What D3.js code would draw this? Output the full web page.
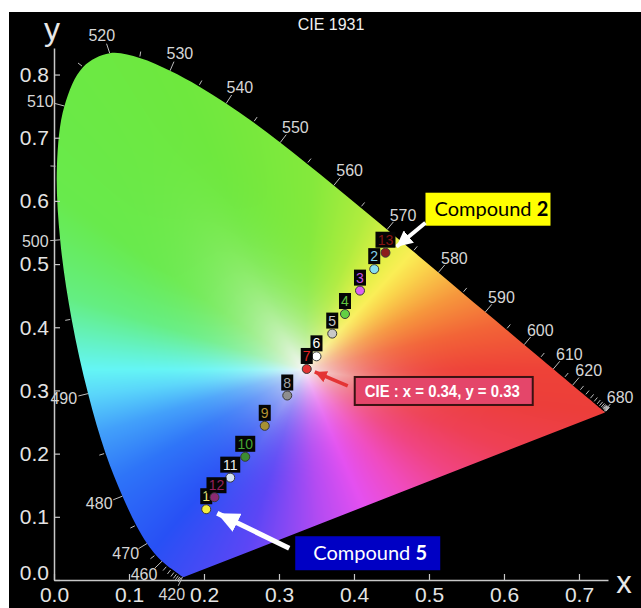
<!DOCTYPE html>
<html>
<head>
<meta charset="utf-8">
<script src="https://cdnjs.cloudflare.com/ajax/libs/d3/7.8.5/d3.min.js"></script>
<style>
  body { margin: 0; background: #fff; }
  svg { display: block; }
</style>
</head>
<body>
<div id="chart"></div>
<script>
// CIE 1931 2-degree spectral locus, 5 nm steps
const wavelengths = d3.range(380, 701, 5)
const locusX = [0.1741,0.1740,0.1738,0.1736,0.1733,0.1730,0.1726,0.1721,0.1714,0.1703,0.1689,0.1669,0.1644,0.1611,0.1566,0.1510,0.1440,0.1355,0.1241,0.1096,0.0913,0.0687,0.0454,0.0235,0.0082,0.0039,0.0139,0.0389,0.0743,0.1142,0.1547,0.1929,0.2296,0.2658,0.3016,0.3373,0.3731,0.4087,0.4441,0.4788,0.5125,0.5448,0.5752,0.6029,0.6270,0.6482,0.6658,0.6801,0.6915,0.7006,0.7079,0.7140,0.7190,0.7230,0.7260,0.7283,0.7300,0.7311,0.7320,0.7327,0.7334,0.7340,0.7344,0.7346,0.7347]
const locusY = [0.0050,0.0050,0.0049,0.0049,0.0048,0.0048,0.0048,0.0048,0.0051,0.0058,0.0069,0.0086,0.0109,0.0138,0.0177,0.0227,0.0297,0.0399,0.0578,0.0868,0.1327,0.2007,0.2950,0.4127,0.5384,0.6548,0.7502,0.8120,0.8338,0.8262,0.8059,0.7816,0.7543,0.7243,0.6923,0.6589,0.6245,0.5896,0.5547,0.5202,0.4866,0.4544,0.4242,0.3965,0.3725,0.3514,0.3340,0.3197,0.3083,0.2993,0.2920,0.2859,0.2809,0.2770,0.2740,0.2717,0.2700,0.2689,0.2680,0.2673,0.2666,0.2660,0.2656,0.2654,0.2653]
const labelledWl = [420,460,470,480,490,500,510,520,530,540,550,560,570,580,590,600,610,620,680]

// measured samples
const sampleIds = ["1","2","3","4","5","6","7","8","9","10","11","12","13"]
const sampleX = [0.203,0.427,0.408,0.388,0.371,0.350,0.337,0.311,0.281,0.255,0.235,0.214,0.442]
const sampleY = [0.112,0.492,0.458,0.421,0.390,0.354,0.334,0.292,0.244,0.195,0.162,0.131,0.518]
const sampleFill = ["#f4ee3c","#86def0","#dc62f0","#62d044","#c8c8c8","#ffffff","#e23232","#8e8e8e","#a89232","#3c8c30","#d4e2f2","#8a2a72","#8c1c1c"]
const sampleText = ["#ece070","#86d2ea","#c452e2","#62c440","#c4c4c4","#ffffff","#e42222","#a4a4a4","#b49232","#44a432","#eeeeee","#94205a","#861414"]

const xTicks = [0,0.1,0.2,0.3,0.4,0.5,0.6,0.7]
const yTicks = [0,0.1,0.2,0.3,0.4,0.5,0.6,0.7,0.8]

// colour wheel around the white point (angle in degrees -> rgb)
const hueAngles = [-10,0,15,30,45,52,60,72,88,110,140,160,172,180,188,200,215,235,255,275,290,305,320,335,350]
const hueColors = [[236,62,58],[238,66,56],[242,100,55],[246,150,60],[250,212,75],[250,238,85],[226,240,70],[176,236,62],[132,233,60],[110,232,62],[104,234,76],[100,238,130],[100,242,200],[100,245,245],[90,214,250],[66,160,250],[46,116,248],[40,80,245],[92,70,245],[180,75,242],[228,80,240],[240,75,190],[240,68,130],[238,64,85],[236,62,58]]
const whitePt = [0.3333, 0.3333]

const width = 641, height = 608

const svg = d3.select("#chart").append("svg")
    .attr("width", width)
    .attr("height", height)

svg.append("rect")
    .attr("x", 9).attr("y", 12)
    .attr("width", width - 9).attr("height", height - 12)
    .attr("fill", "#000")

const x = d3.scaleLinear().domain([0, 0.7387]).range([54, 608])
const y = d3.scaleLinear().domain([0, 0.842]).range([580, 48])

const locus = wavelengths.map((w, i) => ({ w: w, x: locusX[i], y: locusY[i] }))

// distance from white point to the locus edge, per half degree
const rEdge = []
for (let b = 0; b < 720; b++) {
    let a = b / 2 * Math.PI / 180, dx = Math.cos(a), dy = Math.sin(a)
    let best = Infinity
    for (let i = 0; i < locus.length; i++) {
        let A = locus[i], B = locus[(i + 1) % locus.length]
        let ex = B.x - A.x, ey = B.y - A.y
        let den = dx * ey - dy * ex
        if (Math.abs(den) < 1e-12) continue
        let ax = A.x - whitePt[0], ay = A.y - whitePt[1]
        let t = (ax * ey - ay * ex) / den
        let u = (ax * dy - ay * dx) / den
        if (t > 0 && u >= -1e-9 && u <= 1 + 1e-9 && t < best) best = t
    }
    rEdge.push(best)
}

function hueAt(deg) {
    if (deg >= 350) deg -= 360
    let i = 0
    while (i < hueAngles.length - 2 && deg > hueAngles[i + 1]) i++
    let t = (deg - hueAngles[i]) / (hueAngles[i + 1] - hueAngles[i])
    let c0 = hueColors[i], c1 = hueColors[i + 1]
    return [0, 1, 2].map(k => c0[k] + (c1[k] - c0[k]) * t)
}

// raster fill of the horseshoe
const canvas = document.createElement("canvas")
canvas.width = width
canvas.height = height
const ctx = canvas.getContext("2d")
const img = ctx.createImageData(width, height)
for (let py = 40; py < 590; py++) {
    for (let px = 45; px < 615; px++) {
        let dx = x.invert(px + 0.5) - whitePt[0]
        let dy = y.invert(py + 0.5) - whitePt[1]
        let deg = Math.atan2(dy, dx) * 180 / Math.PI
        if (deg < 0) deg += 360
        let s = Math.sqrt(dx * dx + dy * dy) / rEdge[Math.round(deg * 2) % 720]
        if (s > 1.2) continue
        let f = 1 - Math.pow(1 - Math.min(s / 0.9, 1), 3.6)
        let c = hueAt(deg)
        let o = (py * width + px) * 4
        img.data[o] = 246 * (1 - f) + c[0] * f
        img.data[o + 1] = 246 * (1 - f) + c[1] * f
        img.data[o + 2] = 246 * (1 - f) + c[2] * f
        img.data[o + 3] = 255
    }
}
ctx.putImageData(img, 0, 0)

const locusLine = d3.line().x(d => x(d.x)).y(d => y(d.y)).curve(d3.curveCatmullRom.alpha(0.5))

svg.append("clipPath").attr("id", "horseshoe")
    .append("path")
    .attr("d", locusLine(locus) + "Z")

svg.append("image")
    .attr("x", 0).attr("y", 0)
    .attr("width", width).attr("height", height)
    .attr("href", canvas.toDataURL())
    .attr("clip-path", "url(#horseshoe)")

// axes
const xAxis = svg.append("g")
    .attr("transform", "translate(0,580)")
    .call(d3.axisBottom(x).tickValues(xTicks).tickFormat(d3.format(".1f"))
        .tickSizeInner(-6).tickSizeOuter(0).tickPadding(7))
const yAxis = svg.append("g")
    .attr("transform", "translate(54,0)")
    .call(d3.axisLeft(y).tickValues(yTicks).tickFormat(d3.format(".1f"))
        .tickSizeInner(-6).tickSizeOuter(0).tickPadding(5))

for (const g of [xAxis, yAxis]) {
    g.select(".domain").attr("stroke", "#c8c8c8").attr("stroke-width", 1.5)
    g.selectAll(".tick line").attr("stroke", "#c8c8c8").attr("stroke-width", 1.2)
    g.selectAll(".tick text")
        .attr("fill", "#e4e4e4")
        .attr("font-family", "Liberation Sans, Arial, sans-serif")
        .attr("font-size", 21)
}
// lift the y "0.0" clear of the x labels
yAxis.selectAll(".tick text").filter(d => d === 0).attr("y", -7)

svg.append("text").text("x")
    .attr("x", 624).attr("y", 593)
    .attr("text-anchor", "middle")
    .attr("fill", "#e8e8e8")
    .attr("font-family", "Liberation Sans, Arial, sans-serif")
    .attr("font-size", 31)
svg.append("text").text("y")
    .attr("x", 52).attr("y", 40)
    .attr("text-anchor", "middle")
    .attr("fill", "#e8e8e8")
    .attr("font-family", "Liberation Sans, Arial, sans-serif")
    .attr("font-size", 32)

svg.append("text").text("CIE 1931")
    .attr("x", 331).attr("y", 30)
    .attr("text-anchor", "middle")
    .attr("fill", "#f0f0f0")
    .attr("font-family", "Liberation Sans, Arial, sans-serif")
    .attr("font-size", 16)

// wavelength ticks and labels
const wx = w => x(locusX[wavelengths.indexOf(w)])
const wy = w => y(locusY[wavelengths.indexOf(w)])
const wp = [x(whitePt[0]), y(whitePt[1])]

function normalAt(i) {
    let a = locus[Math.max(0, i - 2)], b = locus[Math.min(locus.length - 1, i + 2)]
    let tx = x(b.x) - x(a.x), ty = y(b.y) - y(a.y)
    let len = Math.sqrt(tx * tx + ty * ty)
    let nx = ty / len, ny = -tx / len
    let px = x(locus[i].x) - wp[0], py = y(locus[i].y) - wp[1]
    if (nx * px + ny * py < 0) { nx = -nx; ny = -ny }
    return [nx, ny]
}

const tickWl = wavelengths.filter(w => w >= 420)
const wlTicks = tickWl.map(w => {
    let i = wavelengths.indexOf(w)
    let n = normalAt(i)
    let major = labelledWl.includes(w)
    let len = major ? 10 : 5
    let gap = major ? 0 : 1.5
    return {
        w: w, major: major,
        x1: wx(w) + n[0] * gap, y1: wy(w) + n[1] * gap,
        x2: wx(w) + n[0] * (gap + len), y2: wy(w) + n[1] * (gap + len),
        lx: wx(w) + n[0] * (len + 15), ly: wy(w) + n[1] * (len + 9)
    }
})

svg.append("g").selectAll("line")
    .data(wlTicks)
    .join("line")
    .attr("x1", d => d.x1).attr("y1", d => d.y1)
    .attr("x2", d => d.x2).attr("y2", d => d.y2)
    .attr("stroke", "#bdbdbd")
    .attr("stroke-width", 1)

svg.append("g").selectAll("text")
    .data(wlTicks.filter(d => d.major))
    .join("text")
    .attr("x", d => d.lx).attr("y", d => d.ly)
    .attr("dy", "0.36em")
    .attr("text-anchor", "middle")
    .attr("fill", "#d6d6d6")
    .attr("font-family", "Liberation Sans, Arial, sans-serif")
    .attr("font-size", 16)
    .text(d => d.w)

// annotations (drawn under the samples)
const defs = svg.append("defs")
function arrowHead(id, color, w, h) {
    defs.append("marker")
        .attr("id", id)
        .attr("markerUnits", "userSpaceOnUse")
        .attr("viewBox", `0 0 ${w} ${h}`)
        .attr("refX", w).attr("refY", h / 2)
        .attr("markerWidth", w).attr("markerHeight", h)
        .attr("orient", "auto")
        .append("path")
        .attr("d", `M0,0L${w},${h / 2}L0,${h}Z`)
        .attr("fill", color)
}
arrowHead("headW", "#fff", 16, 16)
arrowHead("headBig", "#fff", 22, 20)
arrowHead("headR", "#e43434", 12, 12)

const p13 = [x(sampleX[12]), y(sampleY[12])]
const p1 = [x(sampleX[0]), y(sampleY[0])]
const p7 = [x(sampleX[6]), y(sampleY[6])]

// CIE readout box
svg.append("rect")
    .attr("x", p7[0] + 48).attr("y", p7[1] + 8)
    .attr("width", 178).attr("height", 28)
    .attr("fill", "#e4466a")
    .attr("stroke", "#3a1212")
    .attr("stroke-width", 2)
svg.append("text")
    .attr("x", p7[0] + 58).attr("y", p7[1] + 28)
    .attr("fill", "#fff")
    .attr("font-family", "Liberation Sans, Arial, sans-serif")
    .attr("font-weight", "bold")
    .attr("font-size", 16)
    .attr("textLength", 155)
    .attr("lengthAdjust", "spacingAndGlyphs")
    .text("CIE : x = 0.34, y = 0.33")
svg.append("line")
    .attr("x1", p7[0] + 41).attr("y1", p7[1] + 17)
    .attr("x2", p7[0] + 8).attr("y2", p7[1] + 3)
    .attr("stroke", "#e43434").attr("stroke-width", 3.5)
    .attr("marker-end", "url(#headR)")

// Compound 2 label
svg.append("rect")
    .attr("x", p13[0] + 40).attr("y", p13[1] - 60)
    .attr("width", 125).attr("height", 33)
    .attr("fill", "#ffff00")
const c2 = svg.append("text")
    .attr("x", p13[0] + 49).attr("y", p13[1] - 37)
    .attr("fill", "#000")
    .attr("font-family", "Lato, Carlito, Calibri, sans-serif")
    .attr("font-size", 20)
c2.append("tspan").text("Compound ")
c2.append("tspan").attr("font-weight", "bold").text("2")
svg.append("line")
    .attr("x1", p13[0] + 40).attr("y1", p13[1] - 30)
    .attr("x2", p13[0] + 11).attr("y2", p13[1] - 6)
    .attr("stroke", "#fff").attr("stroke-width", 4)
    .attr("marker-end", "url(#headW)")

// Compound 5 label
svg.append("rect")
    .attr("x", p1[0] + 89).attr("y", p1[1] + 27)
    .attr("width", 145).attr("height", 34)
    .attr("fill", "#0000c4")
const c5 = svg.append("text")
    .attr("x", p1[0] + 107).attr("y", p1[1] + 51)
    .attr("fill", "#fff")
    .attr("font-family", "Lato, Carlito, Calibri, sans-serif")
    .attr("font-size", 20)
c5.append("tspan").text("Compound ")
c5.append("tspan").attr("font-weight", "bold").text("5")
svg.append("line")
    .attr("x1", p1[0] + 83).attr("y1", p1[1] + 39)
    .attr("x2", p1[0] + 11).attr("y2", p1[1] + 4)
    .attr("stroke", "#fff").attr("stroke-width", 5)
    .attr("marker-end", "url(#headBig)")

// samples
const samples = sampleIds.map((id, i) => ({
    id: id, x: sampleX[i], y: sampleY[i], fill: sampleFill[i], text: sampleText[i]
}))

const sg = svg.append("g").selectAll("g")
    .data(samples)
    .join("g")
    .attr("transform", d => `translate(${x(d.x)},${y(d.y)})`)

sg.append("rect")
    .attr("x", d => -(d.id.length > 1 ? 10 : 6) + (d.id === "12" ? 2 : 0))
    .attr("y", d => d.id === "12" ? -20 : -21)
    .attr("width", d => d.id.length > 1 ? 20 : 12)
    .attr("height", 16)
    .attr("fill", "#050505")

sg.append("text")
    .attr("x", d => d.id === "12" ? 2 : 0)
    .attr("y", d => d.id === "12" ? -7 : -8)
    .attr("text-anchor", "middle")
    .attr("fill", d => d.text)
    .attr("font-family", "Liberation Sans, Arial, sans-serif")
    .attr("font-size", 14)
    .text(d => d.id)

sg.append("circle")
    .attr("r", 4.5)
    .attr("fill", d => d.fill)
    .attr("stroke", "#3a3a3a")
    .attr("stroke-width", 1)
</script>
</body>
</html>
